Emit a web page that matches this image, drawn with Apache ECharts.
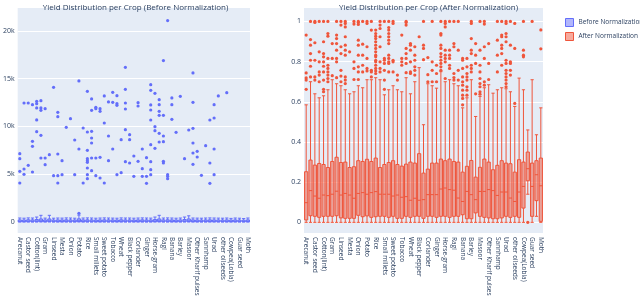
<!DOCTYPE html>
<html><head><meta charset="utf-8">
<script src="https://cdn.jsdelivr.net/npm/echarts@6/dist/echarts.min.js"></script>
<style>html,body{margin:0;padding:0;background:#fff}#c{width:640px;height:300px}</style>
</head><body><div id="c"></div>
<script>
const crops = ["Arecanut","Arhar/Tur","Castor seed","Coconut ","Cotton(lint)","Dry chillies","Gram","Jute","Linseed","Maize","Mesta","Niger seed","Onion","Other  Rabi pulses","Potato","Rapeseed &Mustard","Rice","Sesamum","Small millets","Sugarcane","Sweet potato","Tapioca","Tobacco","Turmeric","Wheat","Bajra","Black pepper","Cardamom","Coriander","Garlic","Ginger","Groundnut","Horse-gram","Jowar","Ragi","Cashewnut","Banana","Soyabean","Barley","Khesari","Masoor","Moong(Green Gram)","Other Kharif pulses","Safflower","Sannhamp","Sunflower","Urad","Peas & beans (Pulses)","other oilseeds","Other Cereals","Cowpea(Lobia)","Oilseeds total","Guar seed","Other Summer Pulses","Moth"];

// Before normalization: [min, Q1, median, Q3, upper whisker]
const beforeBox = [
[0,20,80,220,420],[0,18,70,210,400],[0,22,85,230,430],[0,20,80,220,420],[0,30,100,260,520],
[0,40,120,320,700],[0,20,75,215,410],[0,40,120,320,700],[0,18,70,205,400],[0,20,80,220,420],
[0,20,78,215,410],[0,22,82,225,430],[0,20,80,220,420],[0,18,72,210,400],[0,40,130,330,720],
[0,20,80,220,420],[0,22,85,225,430],[0,20,80,220,420],[0,18,75,210,400],[0,20,80,220,420],
[0,22,82,225,430],[0,20,80,220,420],[0,20,78,215,410],[0,18,72,210,400],[0,22,85,230,430],
[0,20,80,220,420],[0,20,80,220,420],[0,18,70,205,400],[0,20,80,220,420],[0,22,82,225,430],
[0,20,80,220,420],[0,20,78,215,410],[0,30,100,260,520],[0,40,120,320,700],[0,20,80,220,420],
[0,22,85,230,430],[0,20,80,220,420],[0,18,72,210,400],[0,20,80,220,420],[0,30,100,260,520],
[0,40,120,320,650],[0,20,80,220,420],[0,20,78,215,410],[0,18,72,210,400],[0,20,80,220,420],
[0,22,82,225,430],[0,20,80,220,420],[0,20,78,215,410],[0,18,72,210,400],[0,20,80,220,420],
[0,18,70,205,380],[0,20,80,220,420],[0,18,72,210,400],[0,15,60,190,360],[0,20,80,220,420]
];
const beforeOutliers = [
[7154,6630,5305,4083],[12459,5549,4990],[12459,5933],[12285,8446,7922,5235],[12634,12390,11936,10680,9458],
[12704,11936,11692,9074,6700],[11866,6700,6003],[7050],[14100,4851],[11482,11028,7120,4851,4083],
[6422,4956],[9912],[10819],[8585,4956],[14763,7643,907],
[9842,4083],[13681,9423,7504,6630,6422,6247,5654,4956,4537],[12878,11692,9493,8795,8271,6700,5374],[12006,11866,6700,4851],[11866,11587,6770,4607],
[13192,10365,4083],[12564,9004,6422],[13576,12529,7643],[13227,12390,12215,4956],[8620,5165],
[16194,13890,12459,11831,9667,6317],[9144,8620,6177],[6910,4781],[12494,12145,6352],[7643,5584,4781],
[6735,4781,4048],[14379,13785,12250,11726,10679,8097,6317,5479,4956],[13471,9981,9563,7713],[12808,12285,11587,11168,9283,8376],[16892,11168,9004,8411,6352,6177],
[21080,4956,4781,4537],[12983,12285,10749],[9388],[13157],[6631],
[9632],[15600,12529,9807,8271,7224,6038],[7399,6805],[4886],[7992],
[10679,6177,4048],[12285,10889,7643,4956],[13192],[],[13541],
[],[],[],[],[]
];

// After normalization: [min, Q1, median, Q3, upper whisker]
const afterBox = [
[0,0.012,0.098,0.252,0.585],[0,0.033,0.158,0.31,0.70],[0,0.03,0.131,0.285,0.64],[0,0.025,0.12,0.293,0.62],[0,0.03,0.136,0.288,0.63],
[0,0.03,0.133,0.273,0.66],[0,0.03,0.14,0.303,0.71],[0,0.033,0.155,0.324,0.69],[0,0.022,0.136,0.298,0.68],[0,0.02,0.144,0.30,0.66],
[0,0.02,0.136,0.273,0.64],[0,0.02,0.12,0.277,0.65],[0,0.035,0.144,0.307,0.68],[0,0.028,0.148,0.303,0.67],[0,0.032,0.14,0.314,0.71],
[0,0.025,0.148,0.303,0.71],[0,0.028,0.153,0.32,0.72],[0,0.03,0.14,0.273,0.71],[0,0.03,0.14,0.288,0.635],[0,0.025,0.14,0.298,0.66],
[0,0.03,0.131,0.307,0.68],[0,0.02,0.136,0.288,0.66],[0,0.02,0.125,0.28,0.65],[0,0.03,0.128,0.29,0.72],[0,0.025,0.11,0.30,0.64],
[0,0.03,0.12,0.295,0.70],[0,0.03,0.11,0.342,0.77],[0,0.02,0.113,0.245,0.486],[0,0.03,0.138,0.265,0.69],[0,0.03,0.138,0.295,0.68],
[0,0.025,0.138,0.295,0.668],[0,0.03,0.166,0.315,0.75],[0,0.03,0.171,0.307,0.70],[0,0.025,0.163,0.315,0.71],[0,0.03,0.16,0.303,0.69],
[0,0.03,0.121,0.30,0.68],[0,0.038,0.104,0.25,0.57],[0,0.018,0.154,0.279,0.62],[0,0.018,0.138,0.308,0.71],[0,0.047,0.113,0.225,0.527],
[0,0.03,0.154,0.274,0.627],[0,0.025,0.154,0.315,0.67],[0,0.022,0.163,0.30,0.685],[0,0.018,0.158,0.262,0.643],[0,0.018,0.134,0.284,0.66],
[0,0.022,0.151,0.307,0.67],[0,0.03,0.151,0.295,0.665],[0,0.025,0.121,0.292,0.65],[0,0.03,0.104,0.25,0.577],[0,0.025,0.151,0.312,0.718],
[0,0.071,0.179,0.30,0.66],[0.14,0.207,0.267,0.35,0.46],[0,0.03,0.179,0.295,0.71],[0.03,0.108,0.237,0.307,0.436],[0,0.005,0.182,0.32,0.57]
];
const afterOutliers = [
[0.932,0.744,0.719,0.708,0.662],[1,0.91,0.882,0.84,0.807,0.777,0.724],[1,0.995,0.894,0.807,0.724,0.708],[1,0.849,0.799,0.749,0.733,0.70],[1,0.899,0.84,0.824,0.799,0.777,0.749,0.708,0.662,0.65],
[1,0.94,0.927,0.816,0.782,0.766,0.749,0.733,0.716,0.70],[0.89,0.816,0.73],[1,0.932,0.915,0.89,0.857,0.816,0.799,0.72],[1,0.982,0.874,0.84,0.757,0.728,0.70],[1,0.99,0.973,0.924,0.882,0.857,0.832,0.724,0.708,0.691],
[0.849],[1,0.987,0.799,0.766,0.711],[1,0.995,0.985,0.907,0.882,0.832,0.774,0.749,0.711],[1,0.887,0.832,0.782,0.749],[1,0.99,0.874,0.816,0.766,0.754],
[1,0.957,0.757,0.749,0.724],[0.957,0.94,0.927,0.915,0.899,0.882,0.866,0.849,0.832,0.824,0.807,0.799,0.782,0.766,0.754,0.741],[1,0.982,0.965,0.924,0.874,0.799,0.766,0.749],[1,0.816,0.807,0.791,0.757,0.708,0.662],[1,0.97,0.957,0.94,0.924,0.907,0.89,0.832,0.816,0.799,0.791,0.749],
[1,0.99,0.807,0.799,0.749],[0.733,0.708],[0.932,0.816,0.799,0.782],[1,0.995,0.982,0.866,0.84,0.816,0.791,0.745],[0.89,0.882,0.857,0.799,0.749,0.741],
[0.874,0.832,0.807,0.774,0.757,0.733],[0.924],[1,0.882,0.866,0.81],[0.82,0.735,0.70],[1,0.799,0.757,0.70],
[0.782,0.741,0.70],[1,0.94,0.932,0.882,0.866,0.84,0.824,0.807,0.791,0.774,0.757],[1,0.99,0.973,0.857,0.832,0.816,0.799,0.716],[1,0.857,0.832,0.816,0.782,0.766],[1,0.89,0.874,0.741,0.721,0.708],
[1,0.857,0.757,0.708],[0.816,0.807,0.766,0.724,0.70,0.683,0.658,0.633,0.617,0.585],[0.816,0.774,0.741,0.724,0.708,0.675,0.658,0.633],[1,0.99,0.915,0.857,0.84,0.782,0.766,0.749],[0.89,0.832,0.791,0.64],
[1,0.857,0.782,0.749,0.716,0.691,0.675,0.65,0.638],[1,0.987,0.874,0.816,0.70,0.683],[0.89,0.791,0.711],[],[1,0.907,0.832,0.749],
[1,0.932,0.924,0.882,0.866,0.84,0.782],[1,0.99,0.94,0.924,0.899,0.807,0.791,0.757,0.741,0.724,0.708,0.691,0.675],[1,0.882,0.799,0.791,0.757,0.733],[0.99,0.866,0.592],[],
[1,0.857,0.832,0.824],[0],[1],[],[0.958,0.864]
];

const beforeTicks = [0,5000,10000,15000,20000];
const afterTicks = [0,0.2,0.4,0.6,0.8,1];

function flat(list){const out=[];list.forEach((vals,i)=>vals.forEach(v=>out.push([i,v])));return out;}

const FONT = '"Open Sans", verdana, arial, sans-serif';
const TXT = '#2a3f5f';
const BLUE = '#636efa', RED = '#EF553B';
const BLUE_F = 'rgba(99,110,250,0.5)', RED_F = 'rgba(239,85,59,0.5)';

const chart = echarts.init(document.getElementById('c'), null, {renderer:'canvas'});

function xAx(g){return {type:'category',gridIndex:g,data:crops,boundaryGap:true,
  axisLine:{show:false},axisTick:{show:false},splitLine:{show:false},
  axisLabel:{interval:1,rotate:-90,fontSize:6.5,color:TXT,fontFamily:FONT,margin:4}};}
function yAx(g,min,max,ticks,fmt){return {type:'value',gridIndex:g,min:min,max:max,
  axisLine:{show:false},axisTick:{show:false,customValues:ticks},
  splitLine:{show:true,lineStyle:{color:'#ffffff',width:1}},
  axisLabel:{customValues:ticks,formatter:fmt,fontSize:7,color:TXT,fontFamily:FONT,margin:3}};}

chart.setOption({
  animation:false,
  backgroundColor:'#ffffff',
  title:[
    {text:'Yield Distribution per Crop (Before Normalization)',left:130.5,top:-1,textAlign:'center',
     textStyle:{fontSize:8,fontWeight:'normal',color:TXT,fontFamily:FONT}},
    {text:'Yield Distribution per Crop (After Normalization)',left:423.5,top:-1,textAlign:'center',
     textStyle:{fontSize:8,fontWeight:'normal',color:TXT,fontFamily:FONT}}
  ],
  legend:{orient:'vertical',left:560,top:13,itemWidth:8,itemHeight:8,itemGap:5,icon:'rect',
    data:[
      {name:'Before Normalization',itemStyle:{color:BLUE_F,borderColor:BLUE,borderWidth:1}},
      {name:'After Normalization',itemStyle:{color:RED_F,borderColor:RED,borderWidth:1}}
    ],
    textStyle:{fontSize:6.5,color:TXT,fontFamily:FONT}},
  grid:[
    {left:11,top:8,width:239,height:225,show:true,backgroundColor:'#E5ECF6',borderWidth:0},
    {left:304,top:8,width:239,height:225,show:true,backgroundColor:'#E5ECF6',borderWidth:0}
  ],
  xAxis:[xAx(0),xAx(1)],
  yAxis:[
    yAx(0,-1150,22400,beforeTicks,v=>v===0?'0':(v/1000)+'k'),
    yAx(1,-0.053,1.067,afterTicks,v=>String(v))
  ],
  series:[
    {name:'Before Normalization',type:'boxplot',xAxisIndex:0,yAxisIndex:0,data:beforeBox,boxWidth:[3.2,3.2],
     itemStyle:{color:BLUE_F,borderColor:BLUE,borderWidth:1}},
    {name:'After Normalization',type:'boxplot',xAxisIndex:1,yAxisIndex:1,data:afterBox,boxWidth:[3.2,3.2],
     itemStyle:{color:RED_F,borderColor:RED,borderWidth:1}},
    {name:'Before Normalization',type:'scatter',xAxisIndex:0,yAxisIndex:0,data:flat(beforeOutliers),
     symbolSize:3.2,itemStyle:{color:BLUE,opacity:1},z:5},
    {name:'After Normalization',type:'scatter',xAxisIndex:1,yAxisIndex:1,data:flat(afterOutliers),
     symbolSize:3.2,itemStyle:{color:RED,opacity:1},z:5}
  ]
});
</script></body></html>
